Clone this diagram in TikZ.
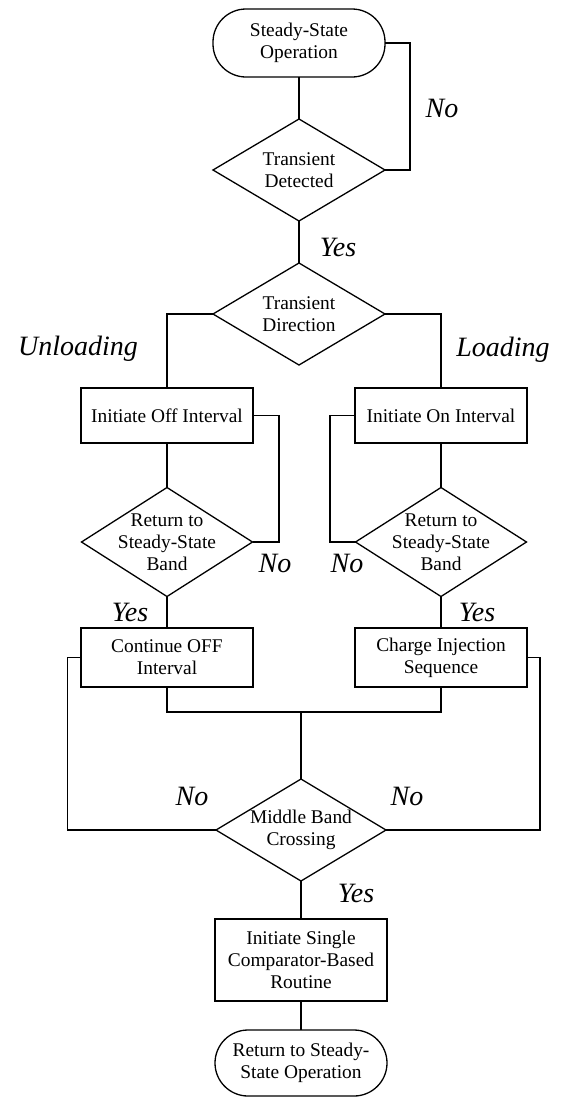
\documentclass[tikz,border=0pt]{standalone}
\usepackage{fontspec}
\setmainfont{Liberation Serif}
\usetikzlibrary{shapes.geometric}
\begin{document}
\begin{tikzpicture}[x=1pt,y=-1pt,
  line width=1.3pt,
  txt/.style={font=\fontsize{19.4}{22}\selectfont, align=center, inner sep=0pt},
  lbl/.style={font=\fontsize{28}{30}\selectfont\itshape, inner sep=0pt},
  term/.style={draw, rectangle, rounded corners=33pt, minimum width=172pt, minimum height=#1, inner sep=0pt, outer sep=0pt, font=\fontsize{19.4}{22}\selectfont, align=center},
  procbox/.style={draw, rectangle, minimum width=172pt, minimum height=#1, inner sep=0pt, outer sep=0pt, font=\fontsize{19.4}{22}\selectfont, align=center},
  dia/.style={draw, diamond, inner sep=0pt, outer sep=0pt},
  conn/.style={line width=1.3pt}
]
\fill[white] (0,0) rectangle (563,1098);
\useasboundingbox (0,0) rectangle (563,1098);

% nodes
\node[term=68pt] (start) at (299,43) {Steady-State\\Operation};
\node[dia, minimum width=172pt, minimum height=102pt] (det) at (299,170) {};
\node[txt] (dett) at (det.center) {Transient\\Detected};
\node[dia, minimum width=172pt, minimum height=102pt] (dir) at (299,314) {};
\node[txt] (dirt) at (dir.center) {Transient\\Direction};

\node[procbox=55pt] (offbox) at (167,415.5) {Initiate Off Interval};
\node[procbox=55pt] (onbox) at (441,415.5) {Initiate On Interval};

\node[dia, minimum width=171pt, minimum height=109pt] (retL) at (167,542) {};
\node[txt] (retLt) at (retL.center) {Return to\\Steady-State\\Band};
\node[dia, minimum width=171pt, minimum height=109pt] (retR) at (441,542) {};
\node[txt] (retRt) at (retR.center) {Return to\\Steady-State\\Band};

\node[procbox=59pt] (contoff) at (167,657.5) {Continue OFF\\Interval};
\node[procbox=59pt] (charge) at (441,657.5) {Charge Injection\\Sequence};

\coordinate (j) at (301,712);
\node[dia, minimum width=170pt, minimum height=102pt] (mid) at (301,830) {};
\node[txt] (midt) at (mid.center) {Middle Band\\Crossing};

\node[procbox=82pt] (single) at (301,960) {Initiate Single\\Comparator-Based\\Routine};
\node[term=66pt] (end) at (301,1063) {Return to Steady-\\State Operation};

% connectors
\draw[conn] (start.south) -- (det.north);
\draw[conn] (start.east) -- ++(25,0) |- (det.east);
\draw[conn] (det.south) -- (dir.north);
\draw[conn] (dir.west) -| (offbox.north);
\draw[conn] (dir.east) -| (onbox.north);
\draw[conn] (offbox.south) -- (retL.north);
\draw[conn] (onbox.south) -- (retR.north);
\draw[conn] (offbox.east) -- ++(26,0) |- (retL.east);
\draw[conn] (onbox.west) -- ++(-25,0) |- (retR.west);
\draw[conn] (retL.south) -- (contoff.north);
\draw[conn] (retR.south) -- (charge.north);
\draw[conn] (contoff.south) |- (j) -| (charge.south);
\draw[conn] (j) -- (mid.north);
\draw[conn] (contoff.west) -- ++(-13.5,0) |- (mid.west);
\draw[conn] (charge.east) -- ++(13,0) |- (mid.east);
\draw[conn] (mid.south) -- (single.north);
\draw[conn] (single.south) -- (end.north);

% labels
\node[lbl] (l1) at (442,108) {No};
\node[lbl] (l2) at (338,247) {Yes};
\node[lbl] (l3) at (78,349) {Unloading};
\node[lbl] (l4) at (503,350) {Loading};
\node[lbl] (l5) at (275,563) {No};
\node[lbl] (l6) at (347,563) {No};
\node[lbl] (l7) at (130,612) {Yes};
\node[lbl] (l8) at (477,612) {Yes};
\node[lbl] (l9) at (192,796) {No};
\node[lbl] (l10) at (407,796) {No};
\node[lbl] (l11) at (356,893) {Yes};
\end{tikzpicture}
\end{document}
